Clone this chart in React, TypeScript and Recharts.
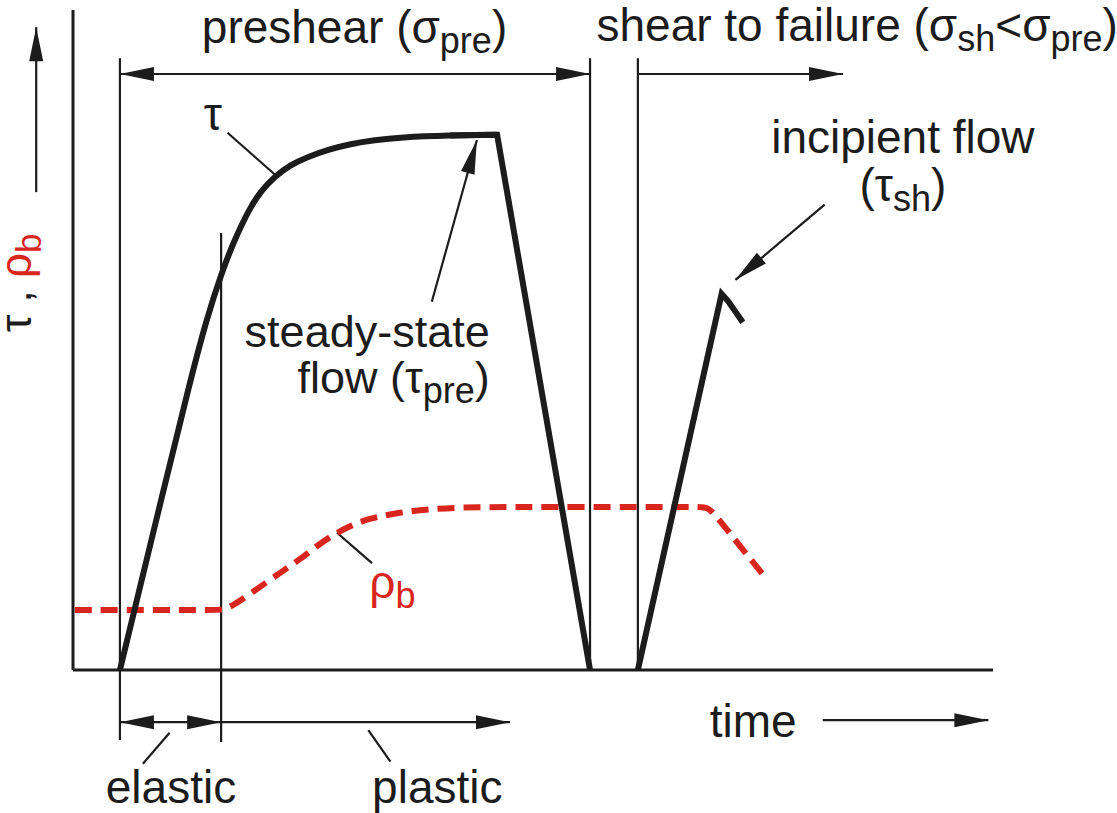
import React from 'react';
import { ComposedChart, Line, XAxis, YAxis, ReferenceLine, ReferenceDot } from 'recharts';

const W = 1117;
const H = 813;
const INK = '#1c1c1c';
const RED = '#d8261f';
const FONT = '"Liberation Sans", Arial, sans-serif';
const FS = 46;
const FS_SUB = 36;

// shear stress during preshear: elastic rise, yielding, steady-state flow, unloading
const tauPreshear = [
  { t: 5.1, v: 0 },
  { t: 10.0, v: 28.2 },
  { t: 12.7, v: 43.6 },
  { t: 14.6, v: 53.6 },
  { t: 16.2, v: 60.3 },
  { t: 17.4, v: 64.7 },
  { t: 19.2, v: 70.0 },
  { t: 20.5, v: 72.7 },
  { t: 21.96, v: 74.8 },
  { t: 23.6, v: 76.5 },
  { t: 25.4, v: 77.7 },
  { t: 27.9, v: 78.9 },
  { t: 30.1, v: 79.7 },
  { t: 32.8, v: 80.3 },
  { t: 35.5, v: 80.7 },
  { t: 41.0, v: 81.0 },
  { t: 46.1, v: 81.1 },
  { t: 56.2, v: 0 },
];
const tauRise = tauPreshear.slice(0, -1);
const tauUnload = tauPreshear.slice(-3);

// shear to failure: rise up to incipient flow, then slight drop
const tauShear = [
  { t: 61.4, v: 0 },
  { t: 70.5, v: 57.0 },
  { t: 71.2, v: 55.9 },
  { t: 72.0, v: 54.3 },
  { t: 72.8, v: 52.7 },
];

// bulk density
const rhoB = [
  { t: 0.2, v: 9.1 },
  { t: 8.0, v: 9.1 },
  { t: 15.5, v: 9.1 },
  { t: 16.7, v: 9.1 },
  { t: 19.2, v: 11.5 },
  { t: 22.8, v: 15.0 },
  { t: 24.7, v: 16.8 },
  { t: 26.5, v: 18.8 },
  { t: 28.3, v: 20.5 },
  { t: 30.1, v: 21.8 },
  { t: 32.0, v: 22.9 },
  { t: 35.5, v: 23.9 },
  { t: 39.1, v: 24.4 },
  { t: 42.8, v: 24.7 },
  { t: 55.0, v: 24.7 },
  { t: 68.0, v: 24.7 },
  { t: 69.0, v: 24.7 },
  { t: 70.0, v: 23.2 },
  { t: 72.6, v: 18.6 },
  { t: 75.2, v: 14.1 },
];

// phase boundaries (thin verticals): [t, vTop, vBottom]
const markers: [number, number, number][] = [
  [5.1, 92.7, -10.6],
  [16.1, 66.2, -10.9],
  [56.2, 92.7, 0],
  [61.4, 92.7, 0],
];

type Head = 'none' | 'end' | 'both';
// arrows & leader lines: [t1, v1, t2, v2, heads]
const arrows: [number, number, number, number, Head][] = [
  [5.1, 90.3, 56.2, 90.3, 'both'],
  [61.4, 90.3, 83.7, 90.3, 'end'],
  [5.1, -7.9, 16.1, -7.9, 'both'],
  [16.1, -7.9, 47.5, -7.9, 'end'],
  [81.5, -7.6, 99.5, -7.6, 'end'],
  [-4.0, 72.4, -4.0, 97.4, 'end'],
  [39.0, 55.8, 43.9, 80.3, 'end'],
  [81.7, 70.5, 72.0, 59.1, 'end'],
  [16.8, 81.4, 22.0, 75.0, 'none'],
  [28.7, 20.8, 32.5, 16.2, 'none'],
  [7.6, -14.2, 10.5, -9.5, 'none'],
  [32.1, -9.1, 34.5, -13.9, 'none'],
];

type Seg = { s: string; sub?: boolean };
type Note = { t: number; v: number; segs: Seg[]; anchor: 'start' | 'middle' | 'end'; color?: string; size?: number };

const notes: Note[] = [
  { t: 14.0, v: 95.0, anchor: 'start', segs: [{ s: 'preshear (σ' }, { s: 'pre', sub: true }, { s: ')' }] },
  {
    t: 56.9, v: 95.3, anchor: 'start',
    segs: [{ s: 'shear to failure (σ' }, { s: 'sh', sub: true }, { s: '<σ' }, { s: 'pre', sub: true }, { s: ')' }],
  },
  { t: 90.2, v: 78.3, anchor: 'middle', segs: [{ s: 'incipient flow' }] },
  { t: 90.2, v: 71.1, anchor: 'middle', segs: [{ s: '(τ' }, { s: 'sh', sub: true }, { s: ')' }] },
  { t: 45.3, v: 49.0, anchor: 'end', size: 45, segs: [{ s: 'steady-state' }] },
  { t: 45.3, v: 42.0, anchor: 'end', size: 45, segs: [{ s: 'flow (τ' }, { s: 'pre', sub: true }, { s: ')' }] },
  { t: 10.65, v: -20.2, anchor: 'middle', segs: [{ s: 'elastic' }] },
  { t: 39.6, v: -20.2, anchor: 'middle', segs: [{ s: 'plastic' }] },
  { t: 69.2, v: -10.2, anchor: 'start', segs: [{ s: 'time' }] },
  { t: 15.2, v: 81.8, anchor: 'middle', segs: [{ s: 'τ' }] },
  { t: 32.2, v: 10.9, anchor: 'start', color: RED, segs: [{ s: 'ρ' }, { s: 'b', sub: true }] },
];

const arrowShape = (heads: Head) => (p: any) => {
  const { x1, y1, x2, y2 } = p;
  const dx = x2 - x1;
  const dy = y2 - y1;
  const len = Math.hypot(dx, dy) || 1;
  const ux = dx / len;
  const uy = dy / len;
  const L = 34;
  const hw = 7;
  const tri = (tx: number, ty: number, sx: number, sy: number) => {
    const bx = tx - sx * L;
    const by = ty - sy * L;
    return `${tx},${ty} ${bx - sy * hw},${by + sx * hw} ${bx + sy * hw},${by - sx * hw}`;
  };
  return (
    <g>
      <line x1={x1} y1={y1} x2={x2} y2={y2} stroke={INK} strokeWidth={2.2} />
      {heads !== 'none' && <polygon points={tri(x2, y2, ux, uy)} fill={INK} />}
      {heads === 'both' && <polygon points={tri(x1, y1, -ux, -uy)} fill={INK} />}
    </g>
  );
};

const textShape = (n: Note) => (p: any) => {
  const { cx, cy } = p;
  const size = n.size || FS;
  let shift = 0;
  return (
    <text x={cx} y={cy} textAnchor={n.anchor} fontFamily={FONT} fontSize={size} fill={n.color || INK}>
      {n.segs.map((g, i) => {
        const target = g.sub ? 10 : 0;
        const dy = target - shift;
        shift = target;
        return (
          <tspan key={i} dy={dy} fontSize={g.sub ? FS_SUB : size}>
            {g.s}
          </tspan>
        );
      })}
    </text>
  );
};

const yLabelShape = (p: any) => {
  const { cx, cy } = p;
  return (
    <text x={cx} y={cy} fontFamily={FONT} fontSize={44} fill={INK} transform={`rotate(-90 ${cx} ${cy})`}>
      <tspan>τ , </tspan>
      <tspan fill={RED}>ρ</tspan>
      <tspan fill={RED} fontSize={35} dy={10}>b</tspan>
    </text>
  );
};

export default function App() {
  return (
    <div style={{ position: 'absolute', left: 0, top: 0, width: W, height: H, background: '#fff' }}>
      <ComposedChart width={W} height={H} margin={{ top: 10, right: 124, bottom: 142, left: 72 }}>
        <XAxis
          type="number"
          dataKey="t"
          domain={[0, 100]}
          allowDataOverflow
          height={1}
          tick={false}
          tickLine={false}
          axisLine={{ stroke: INK, strokeWidth: 3 }}
        />
        <YAxis
          type="number"
          dataKey="v"
          domain={[0, 100]}
          allowDataOverflow
          width={1}
          tick={false}
          tickLine={false}
          axisLine={{ stroke: INK, strokeWidth: 3 }}
        />
        {markers.map(([t, top, bottom], i) => (
          <ReferenceLine
            key={'m' + i}
            segment={[{ x: t, y: top }, { x: t, y: bottom }]}
            stroke={INK}
            strokeWidth={2.2}
            ifOverflow="visible"
          />
        ))}
        {arrows.map(([t1, v1, t2, v2, h], i) => (
          <ReferenceLine
            key={'a' + i}
            segment={[{ x: t1, y: v1 }, { x: t2, y: v2 }]}
            ifOverflow="visible"
            shape={arrowShape(h)}
          />
        ))}
        <Line
          data={rhoB}
          dataKey="v"
          type="basis"
          stroke={RED}
          strokeWidth={6}
          strokeDasharray="17 9"
          dot={false}
          isAnimationActive={false}
        />
        <Line
          data={tauRise}
          dataKey="v"
          type="basis"
          stroke={INK}
          strokeWidth={6}
          dot={false}
          isAnimationActive={false}
        />
        <Line
          data={tauUnload}
          dataKey="v"
          type="linear"
          stroke={INK}
          strokeWidth={6}
          dot={false}
          isAnimationActive={false}
        />
        <Line
          data={tauShear}
          dataKey="v"
          type="linear"
          stroke={INK}
          strokeWidth={6}
          dot={false}
          isAnimationActive={false}
        />
        {notes.map((n, i) => (
          <ReferenceDot key={'n' + i} x={n.t} y={n.v} r={0} ifOverflow="visible" shape={textShape(n)} />
        ))}
        <ReferenceDot x={-4.6} y={51.2} r={0} ifOverflow="visible" shape={yLabelShape} />
      </ComposedChart>
    </div>
  );
}
